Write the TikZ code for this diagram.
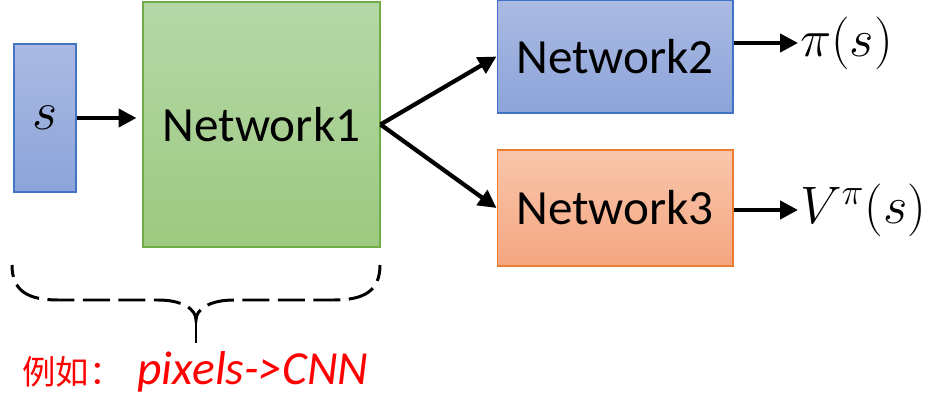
\documentclass[tikz,border=0pt]{standalone}
\usepackage{fix-cm}
\usepackage{fontspec}
\setmainfont{Carlito}
\newfontfamily\cjkfont{Noto Sans CJK SC}
\usetikzlibrary{
  arrows.meta, positioning, calc
}
\definecolor{BlueTop}{RGB}{171,186,226}
\definecolor{BlueBot}{RGB}{140,164,218}
\definecolor{BlueEdge}{RGB}{68,114,196}
\definecolor{GreenTop}{RGB}{181,216,168}
\definecolor{GreenBot}{RGB}{157,201,128}
\definecolor{GreenEdge}{RGB}{112,173,71}
\definecolor{OrangeTop}{RGB}{249,198,172}
\definecolor{OrangeBot}{RGB}{244,166,128}
\definecolor{OrangeEdge}{RGB}{237,125,49}
\tikzset{
  netbox/.style={draw, line width=0.6pt, inner sep=0pt, font=\fontsize{28}{34}\selectfont},
  bluebox/.style={netbox, draw=BlueEdge, top color=BlueTop, bottom color=BlueBot},
  flow/.style={line width=2.4pt, -{Triangle[length=0.36cm,width=0.36cm]}},
  outlabel/.style={anchor=west, inner sep=1pt, font=\fontsize{30}{36}\selectfont}
}
\begin{document}
\begin{tikzpicture}[x=0.02cm,y=0.02cm]
  \useasboundingbox (0,0) rectangle (945,419);
  % boxes
  \node[bluebox, font=\fontsize{31}{36}\selectfont, minimum width=1.24cm, minimum height=2.96cm] (s) at (45,301) {$s$};
  \node[netbox, draw=GreenEdge, top color=GreenTop, bottom color=GreenBot,
        minimum width=4.74cm, minimum height=4.9cm] (net1) at (261.5,294.5) {Network1};
  \node[bluebox, minimum width=4.72cm, minimum height=2.26cm] (net2) at (615,362.5) {Network2};
  \node[netbox, draw=OrangeEdge, top color=OrangeTop, bottom color=OrangeBot,
        minimum width=4.72cm, minimum height=2.32cm] (net3) at (615,211) {Network3};
  % outputs
  \node[outlabel] (pi) at (798,376) {$\pi(s)$};
  \node[outlabel] (v) at (798,209) {$V^{\pi}(s)$};
  % arrows
  \draw[flow, shorten >=0.12cm] (s.east) -- (net1.west |- s.east);
  \draw[flow] (net1.east) -- (net2.west);
  \draw[flow] (net1.east) -- (net3.west);
  \draw[flow] (net2.east |- pi.west) -- (pi.west);
  \draw[flow] (net3.east |- v.west) -- (v.west);
  % brace under s and Network1
  \draw[line width=1.7pt, dash pattern=on 0.54cm off 0.17cm, dash phase=0.3cm]
    (12,154) .. controls (12,128) and (28,119) .. (58,119) -- (158,119)
    .. controls (182,119) and (196,110) .. (196,99)
    .. controls (196,110) and (210,119) .. (234,119) -- (334,119)
    .. controls (364,119) and (380,128) .. (380,154);
  \coordinate (tip) at (196,76);
  \draw[line width=1.7pt] (196,99) -- (tip);
  \node[anchor=west, inner sep=0pt, text=red] (note) at (22,47)
    {{\cjkfont\fontsize{19}{22}\selectfont 例如：}\hspace{0.3cm}{\fontsize{27}{32}\selectfont\itshape pixels->CNN}};
\end{tikzpicture}
\end{document}
